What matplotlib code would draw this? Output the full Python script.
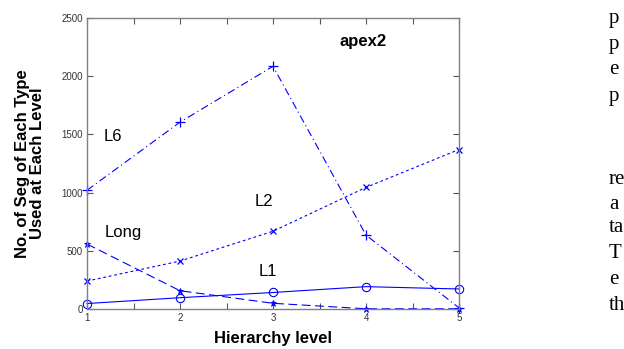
import matplotlib
matplotlib.use("Agg")
from matplotlib import pyplot as plt
from matplotlib.ticker import MultipleLocator

plt.rcParams['font.family'] = ['Liberation Sans', 'DejaVu Sans']

# data
levels = [1, 2, 3, 4, 5]
seg_l6 = [1020, 1605, 2085, 635, 10]
seg_l2 = [240, 412, 668, 1045, 1370]
seg_long = [558, 157, 49, 2, 2]
seg_l1 = [47, 97, 142, 192, 172]

x_ticks = [1, 2, 3, 4, 5]
y_ticks = [0, 500, 1000, 1500, 2000, 2500]

# cut-off body text of the page on the right (only the letters that fit)
side_text = ["p", "p", "e", "p", "re", "a", "ta", "T", "e", "th"]
side_rows = [18, 45, 70, 97, 180, 204, 228, 253, 279, 305]

W, H = 624, 349
fig = plt.figure(figsize=(W / 100, H / 100), dpi=100)
ax = fig.add_axes([87 / W, 1 - 309 / H, 372 / W, 291 / H])

blue = '#0000ff'
ax.plot(levels, seg_l6, color=blue, lw=0.8, dashes=(7, 3, 1, 3), marker='+', ms=7, mew=0.9, clip_on=False)
ax.plot(levels, seg_l2, color=blue, lw=0.8, dashes=(2.5, 2.5), marker='x', ms=4, mew=0.9, clip_on=False)
ax.plot(levels, seg_long, color=blue, lw=0.8, dashes=(8, 4), marker='*', ms=5, mew=0.6, clip_on=False)
ax.plot(levels, seg_l1, color=blue, lw=0.8, marker='o', ms=6, mfc='none', mew=0.8, clip_on=False)

ax.set_xlim(1, 5)
ax.set_ylim(0, 2500)
ax.set_xticks(x_ticks)
ax.set_yticks(y_ticks)
ax.xaxis.set_minor_locator(MultipleLocator(0.5))
ax.tick_params(which='both', direction='in', length=4, width=0.8, color='#555555',
               top=True, right=True, labelsize=7, labelcolor='#333333', pad=3)

for sp in ax.spines.values():
    sp.set_color('#808080')
    sp.set_linewidth(1.0)

ax.set_xlabel("Hierarchy level", fontsize=12, fontweight='bold', labelpad=6)
ax.set_ylabel("No. of Seg of Each Type\nUsed at Each Level", fontsize=12,
              fontweight='bold', linespacing=0.95, labelpad=12)

ax.text(3.97, 2300, "apex2", fontsize=12, fontweight='bold', ha='center', va='center')
ax.text(1.28, 1480, "L6", fontsize=12, ha='center', va='center')
ax.text(2.9, 920, "L2", fontsize=12, ha='center', va='center')
ax.text(1.39, 660, "Long", fontsize=12, ha='center', va='center')
ax.text(2.95, 318, "L1", fontsize=12, ha='center', va='center')

for word, row in zip(side_text, side_rows):
    fig.text(609 / W, 1 - row / H, word, fontsize=15, family='Liberation Serif', va='center')

fig.savefig("out.png", dpi=100)
